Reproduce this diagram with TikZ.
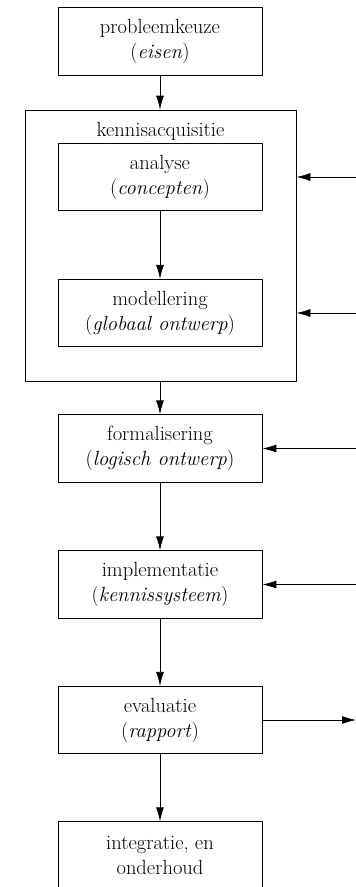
\documentclass[tikz,border=0pt]{standalone}
\usetikzlibrary{arrows.meta}
\begin{document}
\begin{tikzpicture}[x=1pt,y=-1pt,
  every node/.style={font=\fontsize{20.5pt}{25pt}\selectfont},
  stage/.style={draw=black,line width=0.8pt,minimum width=204pt,minimum height=67.5pt,
    inner sep=0pt,align=center},
  group/.style={draw=black,line width=0.8pt,minimum width=271pt,minimum height=271pt,inner sep=0pt},
  arr/.style={line width=0.8pt,-{Latex[length=14pt,width=8pt]}}]
\useasboundingbox (0,0) rectangle (356,887);
\clip (0,0) rectangle (356,887);

% main chain of stages
\node[stage] (p)  at (160,41.5)  {probleemkeuze\\(\textit{eisen})};
\node[group] (ka) at (160.5,245.5) {};
\node (kat) at (160.5,131) {kennisacquisitie};
\node[stage] (an) at (160,177)   {analyse\\(\textit{concepten})};
\node[stage] (mo) at (160,313)   {modellering\\(\textit{globaal ontwerp})};
\node[stage] (fo) at (160,448.5) {formalisering\\(\textit{logisch ontwerp})};
\node[stage] (im) at (160,584.5) {implementatie\\(\textit{kennissysteem})};
\node[stage] (ev) at (160,720)   {evaluatie\\(\textit{rapport})};
\node[stage] (in) at (160,855.5) {integratie, en\\onderhoud};

% free ends of the side connectors
\coordinate (r1) at (357,177);
\coordinate (r2) at (357,313);
\coordinate (r3) at (357,448.5);
\coordinate (r4) at (357,584.5);
\coordinate (r5) at (356,720);

% downward flow
\draw[arr] (p.south) -- (p.south |- ka.north);
\draw[arr] (an.south) -- (mo.north);
\draw[arr] (fo.north |- ka.south) -- (fo.north);
\draw[arr] (fo.south) -- (im.north);
\draw[arr] (im.south) -- (ev.north);
\draw[arr] (ev.south) -- (in.north);

% side inputs and output
\draw[arr] (r1) -- (r1 -| ka.east);
\draw[arr] (r2) -- (r2 -| ka.east);
\draw[arr] (r3) -- (fo.east);
\draw[arr] (r4) -- (im.east);
\draw[arr] (ev.east) -- (r5);
\end{tikzpicture}
\end{document}
